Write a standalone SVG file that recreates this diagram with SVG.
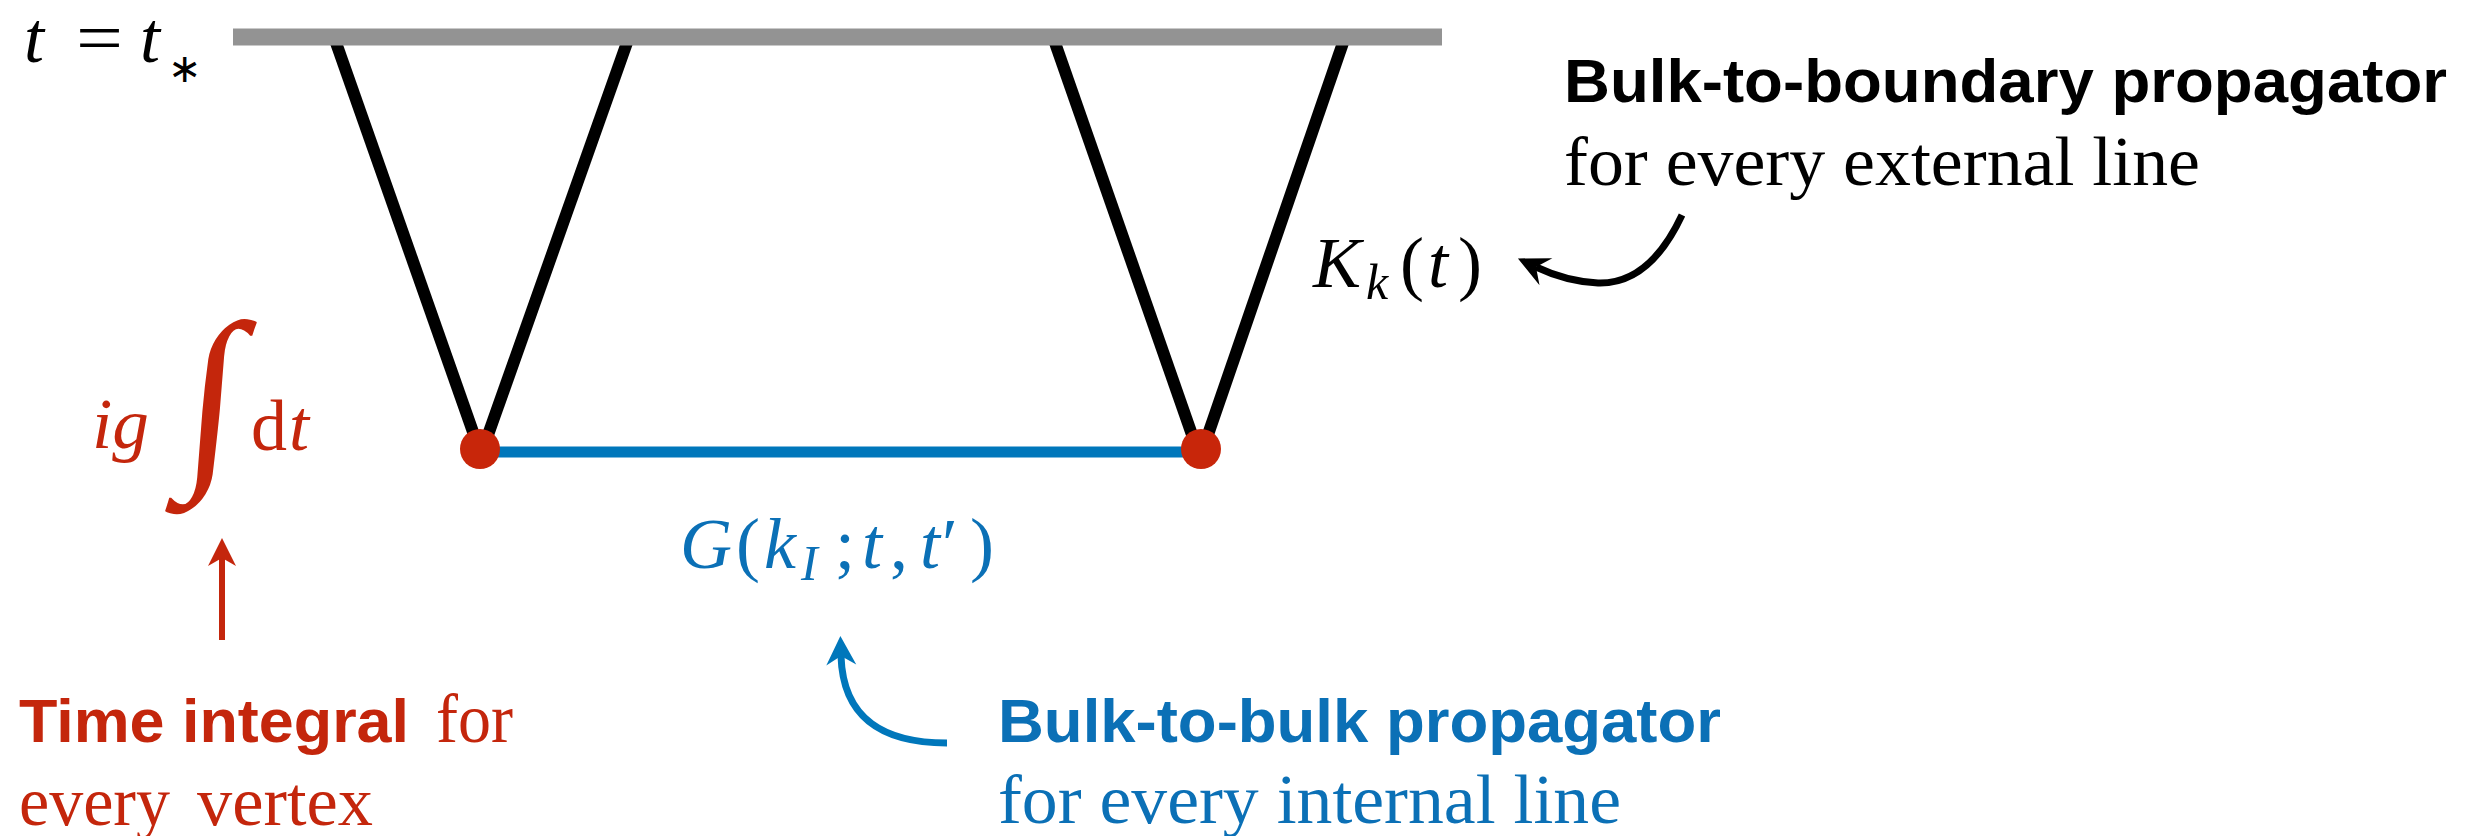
<svg xmlns="http://www.w3.org/2000/svg" width="2481" height="836" viewBox="0 0 2481 836">
<defs>
<style>
.math{font-family:"Liberation Serif","Times New Roman",serif;font-size:72px}
.it{font-style:italic}
.sub{font-size:50px;font-style:italic}
.serif{font-family:"Liberation Serif","Times New Roman",serif;font-size:70px}
.bold{font-family:"Liberation Sans",Arial,sans-serif;font-weight:bold;font-size:62px}
.red{fill:#C4260C}
.blue{fill:#0B70B6}
.blk{fill:#000}
.ext{stroke:#000;stroke-width:12;fill:none}
.int{stroke:#0077BB;stroke-width:11;fill:none}
.vtx{fill:#C8260A}
</style>
<marker id="ahBlack" markerUnits="userSpaceOnUse" markerWidth="60" markerHeight="40" viewBox="-14 -20 50 40" refX="0" refY="0" orient="auto" overflow="visible">
<path d="M20,0 L-11,-15 L0,0 L-11,15 Z" fill="#000"/>
</marker>
<marker id="ahBlue" markerUnits="userSpaceOnUse" markerWidth="60" markerHeight="40" viewBox="-14 -20 50 40" refX="0" refY="0" orient="auto" overflow="visible">
<path d="M20,0 L-9,-15 L0,0 L-9,15 Z" fill="#0077BB"/>
</marker>
<marker id="ahRed" markerUnits="userSpaceOnUse" markerWidth="60" markerHeight="40" viewBox="-14 -20 50 40" refX="0" refY="0" orient="auto" overflow="visible">
<path d="M20,0 L-8,-14 L0,0 L-8,14 Z" fill="#C4260C"/>
</marker>
</defs>
<rect width="2481" height="836" fill="#fff"/>

<g id="connectors">
<line class="ext" x1="334" y1="37" x2="479" y2="449"/>
<line class="ext" x1="629" y1="37" x2="483" y2="449"/>
<line class="ext" x1="1053" y1="37" x2="1197" y2="449"/>
<line class="ext" x1="1345" y1="37" x2="1203" y2="449"/>
<line class="int" x1="480" y1="452" x2="1201" y2="452"/>
<path d="M1682,215 C1660,262 1632,284 1598,283 C1578,282 1555,276 1536,267" fill="none" stroke="#000" stroke-width="7" marker-end="url(#ahBlack)"/>
<path d="M947,743 C885,743 843,720 841,656" fill="none" stroke="#0077BB" stroke-width="7" marker-end="url(#ahBlue)"/>
<path d="M222,640 L222,558" fill="none" stroke="#C4260C" stroke-width="6" marker-end="url(#ahRed)"/>
</g>

<g id="boundary">
<rect x="233" y="28.5" width="1209" height="17" fill="#939393"/>
<text class="math blk" y="62"><tspan class="it" x="24">t</tspan><tspan class="it" x="140">t</tspan><tspan x="168" y="82" style="font-family:'DejaVu Sans',sans-serif;font-size:40px">∗</tspan></text>
<text class="math blk" x="76" y="62" textLength="47" lengthAdjust="spacingAndGlyphs">=</text>
</g>

<g id="vertex-left"><circle class="vtx" cx="480" cy="449" r="20"/></g>
<g id="vertex-right"><circle class="vtx" cx="1201" cy="449" r="20"/></g>

<g id="label-K">
<text class="math blk" y="287"><tspan class="it" x="1313">K</tspan><tspan class="sub" x="1366" y="299">k</tspan><tspan x="1400" y="287">(</tspan><tspan class="it" x="1428">t</tspan><tspan x="1458">)</tspan></text>
</g>

<g id="label-G">
<text class="math blue" y="568"><tspan class="it" x="680">G</tspan><tspan x="736">(</tspan><tspan class="it" x="764">k</tspan><tspan class="sub" x="801" y="580">I</tspan><tspan x="835" y="568">;</tspan><tspan class="it" x="862">t</tspan><tspan x="890">,</tspan><tspan class="it" x="920">t</tspan><tspan x="942">′</tspan><tspan x="970">)</tspan></text>
</g>

<g id="label-integral">
<text class="math red it" x="92" y="448" textLength="57" lengthAdjust="spacingAndGlyphs">ig</text>
<text class="red" x="180" y="461" transform="translate(180,461) skewX(-5) translate(-180,-461)" style="font-family:'Liberation Serif',serif;font-style:italic;font-size:199px">∫</text>
<text class="math red" y="450"><tspan x="251">d</tspan><tspan class="it" x="289">t</tspan></text>
</g>

<g id="note-boundary">
<text class="bold blk" x="1564" y="102" textLength="883" lengthAdjust="spacingAndGlyphs">Bulk-to-boundary propagator</text>
<text class="serif blk" x="1564" y="185" textLength="636" lengthAdjust="spacingAndGlyphs">for every external line</text>
</g>

<g id="note-time">
<text class="bold red" x="19" y="742" textLength="390" lengthAdjust="spacingAndGlyphs">Time integral</text>
<text class="serif red" x="436" y="742" textLength="77" lengthAdjust="spacingAndGlyphs">for</text>
<text class="serif red" x="19" y="825" textLength="151" lengthAdjust="spacingAndGlyphs">every</text>
<text class="serif red" x="197" y="825" textLength="176" lengthAdjust="spacingAndGlyphs">vertex</text>
</g>

<g id="note-bulk">
<text class="bold blue" x="998" y="742" textLength="723" lengthAdjust="spacingAndGlyphs">Bulk-to-bulk propagator</text>
<text class="serif blue" x="998" y="823" textLength="623" lengthAdjust="spacingAndGlyphs">for every internal line</text>
</g>
</svg>
